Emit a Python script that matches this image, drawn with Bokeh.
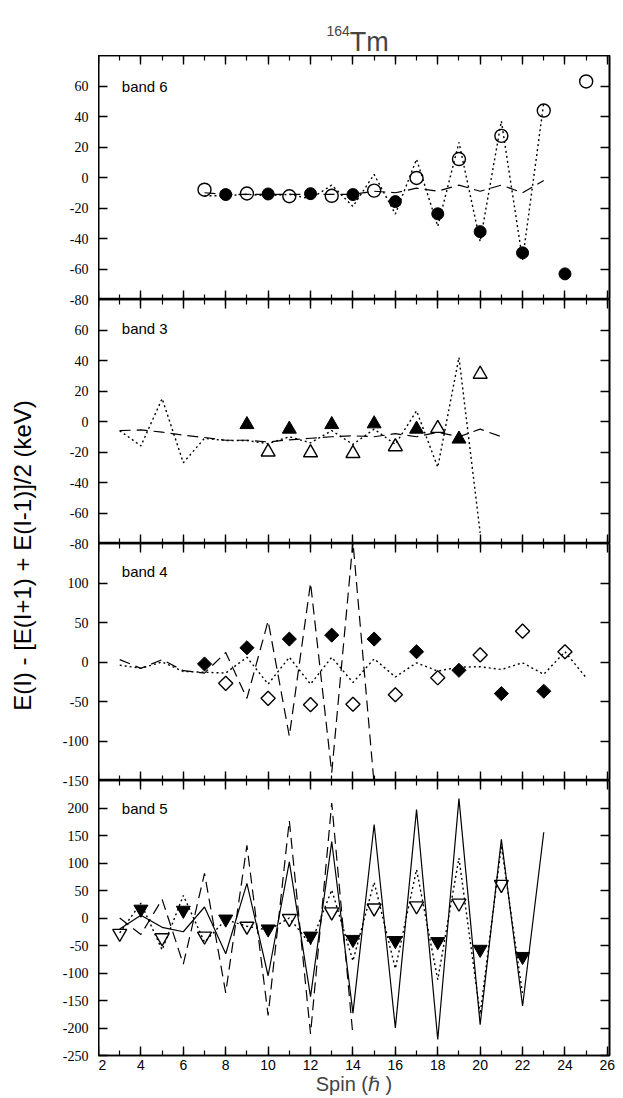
import numpy as np
from bokeh.plotting import figure
from bokeh.models import LinearAxis, FixedTicker, Label, Range1d, CustomJSTickFormatter
from bokeh.layouts import row, column
from bokeh.embed import file_html
from bokeh.resources import INLINE

FONT = "Liberation Sans"

# ---------------- data ----------------
x_major = list(range(2, 27, 2))
x_minor = list(range(2, 27))

# band 6
b6_open_spin = [7, 9, 11, 13, 15, 17, 19, 21, 23, 25]
b6_open_val = [-8, -10.5, -12.3, -12.0, -8.6, -0.3, 12.1, 27.3, 43.9, 63.0]
b6_fill_spin = [8, 10, 12, 14, 16, 18, 20, 22, 24]
b6_fill_val = [-11.2, -10.8, -10.6, -11.2, -15.8, -23.8, -35.5, -49.4, -63.2]
b6_dot_spin = list(range(7, 24))
b6_dot_val = [-12, -12, -11, -12, -11, -14, -5, -19, 2, -24, 12, -32, 23, -42, 37, -54, 49]
b6_dash_spin = list(range(7, 24))
b6_dash_val = [-10, -11, -11, -11, -11, -11, -11, -11, -9, -10, -7, -9, -5, -9, -5, -10, -2]

# band 3
b3_fill_spin = [9, 11, 13, 15, 17, 19]
b3_fill_val = [-2, -5, -2, -1.5, -5, -11.5]
b3_open_spin = [10, 12, 14, 16, 18, 20]
b3_open_val = [-20, -20.5, -21, -16.5, -4.5, 31]
b3_dot_spin = list(range(3, 21))
b3_dot_val = [-6, -16, 15, -27, -11, -12.5, -12.5, -14.5, -10, -14, -6, -15, -5, -15, 7, -30, 42, -73]
b3_dash_spin = list(range(3, 22))
b3_dash_val = [-6, -5.5, -7, -9, -10.5, -12.3, -12.3, -13.4, -12, -11, -10, -9.4, -10, -8, -10, -7, -10, -5, -10]

# band 4
b4_fill_spin = [7, 9, 11, 13, 15, 17, 19, 21, 23]
b4_fill_val = [-2.5, 18, 29, 34, 29, 13, -10.5, -40, -37]
b4_open_spin = [8, 10, 12, 14, 16, 18, 20, 22, 24]
b4_open_val = [-27, -46, -54, -53.5, -41.5, -20, 9, 39, 13]
b4_dot_spin = list(range(3, 26))
b4_dot_val = [-4, -8, 0, -12, -13, -14, 6, -28, 6, -28, 6, -26, 4, -19, -1, -11.5, -6.5, -6, -9.5, -1, -15.5, 13, -20]
b4_dash_spin = list(range(3, 16))
b4_dash_val = [3, -8, 3, -11, -14, 12, -46, 52, -94, 100, -140, 152, -155]

# band 5
b5_fill_spin = [4, 6, 8, 10, 12, 14, 16, 18, 20, 22]
b5_fill_val = [16, 14, -2, -20, -33, -39, -41, -43, -57, -70]
b5_open_spin = [3, 5, 7, 9, 11, 13, 15, 17, 19, 21]
b5_open_val = [-28, -36, -33, -15, -1, 11, 18, 22, 27, 61]
b5_solid_spin = list(range(3, 24))
b5_solid_val = [-20, 5, -17, -25, 20, -65, 63, -105, 102, -143, 139, -173, 170, -200, 197, -221, 217, -194, 143, -160, 156]
b5_dash_spin = list(range(3, 15))
b5_dash_val = [0, -30, 34, -84, 81, -136, 132, -177, 177, -211, 209, -214]
b5_dot_spin = list(range(3, 23))
b5_dot_val = [-27, 27, -58, 41, -44, -3, -15, -22, 0, -48, 51, -78, 65, -92, 88, -112, 109, -175, 132, -139]

# panel ranges / ticks
p1_range = (-80, 80); p1_ticks = [-80, -60, -40, -20, 0, 20, 40, 60]
p2_range = (-80, 80); p2_ticks = [-80, -60, -40, -20, 0, 20, 40, 60]
p3_range = (-150, 150); p3_ticks = [-150, -100, -50, 0, 50, 100]
p4_range = (-250, 250); p4_ticks = [-250, -200, -150, -100, -50, 0, 50, 100, 150, 200]

y_title = "E(I) - [E(I+1) + E(I-1)]/2 (keV)"
x_title = "Spin (\u210f )"

# ---------------- layout geometry (pixels) ----------------
W = 623
H = 1098
STRIP = 98          # left strip holding y tick labels and y title
RIGHT = 14
FW = W - STRIP - RIGHT
TITLE_H = 55
FH = [244, 244, 237, 275]
BOTTOM = 43

blank = CustomJSTickFormatter(code="return ''")


def style_x_axis(ax, show_labels):
    ax.ticker = FixedTicker(ticks=x_major, minor_ticks=x_minor)
    ax.axis_line_width = 1.6
    ax.major_tick_in = 9
    ax.major_tick_out = 0
    ax.minor_tick_in = 5
    ax.minor_tick_out = 0
    ax.major_tick_line_width = 1.4
    ax.minor_tick_line_width = 1.2
    if show_labels:
        ax.major_label_text_font = FONT
        ax.major_label_text_font_size = "14px"
        ax.major_label_text_color = "black"
        ax.major_label_standoff = 4
    else:
        ax.formatter = blank
        ax.major_label_text_font_size = "0px"
        ax.major_label_standoff = 0


def style_y_axis(ax):
    ax.axis_line_width = 1.6
    ax.major_tick_in = 9
    ax.major_tick_out = 0
    ax.minor_tick_in = 0
    ax.minor_tick_out = 0
    ax.major_tick_line_width = 1.4
    ax.formatter = blank
    ax.major_label_text_font_size = "0px"
    ax.major_label_standoff = 0


def make_panel(yr, yticks, fh, bottom=0, show_x=False):
    p = figure(frame_width=FW, frame_height=fh,
               x_range=Range1d(2, 26.1), y_range=Range1d(*yr),
               output_backend="svg", toolbar_location=None,
               min_border_left=0, min_border_right=RIGHT,
               min_border_top=0, min_border_bottom=bottom,
               x_axis_location=None, y_axis_location=None,
               background_fill_color="white", border_fill_color="white")
    p.grid.visible = False
    p.outline_line_color = "black"
    p.outline_line_width = 1.6

    ab = LinearAxis()
    style_x_axis(ab, show_x)
    if show_x:
        ab.axis_label = x_title
        ab.axis_label_text_font = FONT
        ab.axis_label_text_font_size = "20px"
        ab.axis_label_text_font_style = "normal"
        ab.axis_label_standoff = 0
    p.add_layout(ab, "below")
    aa = LinearAxis()
    style_x_axis(aa, False)
    p.add_layout(aa, "above")

    al = LinearAxis(ticker=FixedTicker(ticks=yticks))
    style_y_axis(al)
    p.add_layout(al, "left")
    ar = LinearAxis(ticker=FixedTicker(ticks=yticks))
    style_y_axis(ar)
    p.add_layout(ar, "right")
    return p


def band_label(p, text, y):
    p.add_layout(Label(x=3.1, y=y, text=text, text_font=FONT, text_font_size="15px",
                       text_baseline="middle", text_align="left", text_color="black"))


DOT = "2 3"
DASH = "11 6"

# ---- title strip
pt = figure(frame_width=FW, frame_height=TITLE_H, x_range=Range1d(2, 26.1), y_range=Range1d(0, TITLE_H),
            output_backend="svg", toolbar_location=None, min_border_left=0, min_border_right=RIGHT,
            min_border_top=0, min_border_bottom=0, x_axis_location=None, y_axis_location=None)
pt.grid.visible = False
pt.outline_line_color = None
pt.add_layout(Label(x=12.75, y=25, text="164", text_font=FONT, text_font_size="14px",
                    text_align="left", text_baseline="alphabetic"))
pt.add_layout(Label(x=13.85, y=14, text="Tm", text_font=FONT, text_font_size="27px",
                    text_align="left", text_baseline="alphabetic"))

# ---- panel 1: band 6
p1 = make_panel(p1_range, p1_ticks, FH[0])
p1.line(b6_dot_spin, b6_dot_val, line_color="black", line_width=1.4, line_dash=DOT)
p1.line(b6_dash_spin, b6_dash_val, line_color="black", line_width=1.2, line_dash=DASH)
p1.scatter(b6_open_spin, b6_open_val, marker="circle", size=13, fill_color=None,
           line_color="black", line_width=1.4)
p1.scatter(b6_fill_spin, b6_fill_val, marker="circle", size=12, fill_color="black",
           line_color="black")
band_label(p1, "band 6", 60)

# ---- panel 2: band 3
p2 = make_panel(p2_range, p2_ticks, FH[1])
p2.line(b3_dot_spin, b3_dot_val, line_color="black", line_width=1.4, line_dash=DOT)
p2.line(b3_dash_spin, b3_dash_val, line_color="black", line_width=1.2, line_dash=DASH)
p2.scatter(b3_open_spin, b3_open_val, marker="triangle", size=14, fill_color=None,
           line_color="black", line_width=1.4)
p2.scatter(b3_fill_spin, b3_fill_val, marker="triangle", size=14, fill_color="black",
           line_color="black")
band_label(p2, "band 3", 61)

# ---- panel 3: band 4
p3 = make_panel(p3_range, p3_ticks, FH[2])
p3.line(b4_dot_spin, b4_dot_val, line_color="black", line_width=1.4, line_dash=DOT)
p3.line(b4_dash_spin, b4_dash_val, line_color="black", line_width=1.2, line_dash=DASH)
p3.scatter(b4_open_spin, b4_open_val, marker="square", angle=np.pi / 4, size=10,
           fill_color=None, line_color="black", line_width=1.4)
p3.scatter(b4_fill_spin, b4_fill_val, marker="square", angle=np.pi / 4, size=10,
           fill_color="black", line_color="black")
band_label(p3, "band 4", 115)

# ---- panel 4: band 5
p4 = make_panel(p4_range, p4_ticks, FH[3], bottom=BOTTOM, show_x=True)
p4.line(b5_dot_spin, b5_dot_val, line_color="black", line_width=1.4, line_dash=DOT)
p4.line(b5_dash_spin, b5_dash_val, line_color="black", line_width=1.2, line_dash=DASH)
p4.line(b5_solid_spin, b5_solid_val, line_color="black", line_width=1.2)
p4.scatter(b5_open_spin, b5_open_val, marker="inverted_triangle", size=14, fill_color=None,
           line_color="black", line_width=1.4)
p4.scatter(b5_fill_spin, b5_fill_val, marker="inverted_triangle", size=14, fill_color="black",
           line_color="black")
band_label(p4, "band 5", 200)

# ---- left strip: y tick labels (mapped through per-panel ranges) and y title
lab = figure(frame_width=STRIP, frame_height=H, x_range=Range1d(0, STRIP), y_range=Range1d(0, H),
             output_backend="svg", toolbar_location=None, min_border=0,
             x_axis_location=None, y_axis_location=None)
lab.grid.visible = False
lab.outline_line_color = None

panels = [("b6", p1_range, p1_ticks), ("b3", p2_range, p2_ticks),
          ("b4", p3_range, p3_ticks), ("b5", p4_range, p4_ticks)]
top_px = TITLE_H
for (name, (lo, hi), ticks), fh in zip(panels, FH):
    bot_px = top_px + fh
    k = fh / (hi - lo)          # pixels per data unit in that panel
    lab.extra_y_ranges[name] = Range1d(lo - (H - bot_px) / k, hi + top_px / k)
    lab.text(x=[88] * len(ticks), y=ticks, text=[str(t) for t in ticks], y_range_name=name,
             text_font=FONT, text_font_size="14px", text_align="right",
             text_baseline="middle", text_color="black")
    top_px = bot_px

lab.add_layout(Label(x=22, y=H - 555, text=y_title, angle=np.pi / 2,
                     text_font=FONT, text_font_size="24px", text_align="center",
                     text_baseline="middle", text_color="black"))

layout = row(lab, column(pt, p1, p2, p3, p4))
open("out.html", "w").write(file_html(layout, INLINE))
